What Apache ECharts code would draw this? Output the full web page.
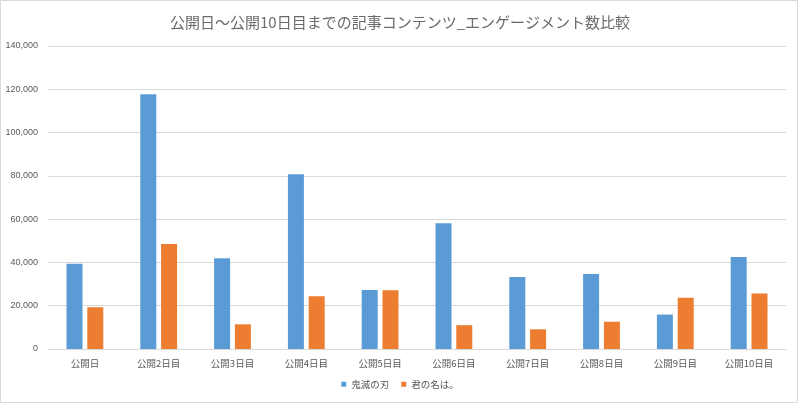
<!DOCTYPE html>
<html>
<head>
<meta charset="utf-8">
<script src="https://cdn.jsdelivr.net/npm/echarts@6/dist/echarts.min.js"></script>
<style>
html,body{margin:0;padding:0;background:#fff;}
#chart{width:800px;height:404px;}
</style>
</head>
<body>
<div id="chart"></div>
<script>
const categories = ['公開日','公開2日目','公開3日目','公開4日目','公開5日目','公開6日目','公開7日目','公開8日目','公開9日目','公開10日目'];
const kimetsu = [39400, 117700, 41900, 80700, 27300, 58100, 33300, 34700, 15900, 42500];
const kiminonawa = [19300, 48500, 11400, 24400, 27100, 11000, 9100, 12600, 23700, 25700];
const yTicks = [0, 20000, 40000, 60000, 80000, 100000, 120000, 140000];
const seriesNames = ['鬼滅の刃', '君の名は。'];

const font = '"Noto Sans CJK JP", "Liberation Sans", sans-serif';
const chart = echarts.init(document.getElementById('chart'));
chart.setOption({
  animation: false,
  backgroundColor: '#fff',
  title: {
    text: '公開日〜公開10日目までの記事コンテンツ_エンゲージメント数比較',
    left: 'center',
    top: 10,
    textStyle: {fontFamily: font, fontSize: 15, fontWeight: 'normal', color: '#6a6a6a'}
  },
  graphic: [{
    type: 'rect',
    shape: {x: 0.5, y: 0.5, width: 797, height: 402},
    style: {fill: 'none', stroke: '#d9d9d9', lineWidth: 1},
    silent: true
  }],
  legend: {
    data: seriesNames,
    bottom: 10,
    left: 'center',
    icon: 'rect',
    itemWidth: 5,
    itemHeight: 5,
    itemGap: 12,
    textStyle: {fontFamily: font, fontSize: 9.5, color: '#595959'}
  },
  grid: {left: 48, right: 14, top: 46, bottom: 55, containLabel: false},
  xAxis: {
    type: 'category',
    data: categories,
    axisLine: {lineStyle: {color: '#d9d9d9'}},
    axisTick: {show: false},
    axisLabel: {fontFamily: font, fontSize: 9.5, color: '#595959', margin: 10}
  },
  yAxis: {
    type: 'value',
    min: yTicks[0],
    max: yTicks[yTicks.length - 1],
    interval: yTicks[1] - yTicks[0],
    axisLine: {show: false},
    axisTick: {show: false},
    splitLine: {lineStyle: {color: '#d9d9d9'}},
    axisLabel: {
      fontFamily: '"Liberation Sans", sans-serif', fontSize: 9, color: '#595959', margin: 10,
      formatter: v => v.toLocaleString('en-US')
    }
  },
  series: [
    {name: seriesNames[0], type: 'bar', data: kimetsu, barWidth: 16, barGap: '30%', itemStyle: {color: '#5B9BD5'}},
    {name: seriesNames[1], type: 'bar', data: kiminonawa, barWidth: 16, barGap: '30%', itemStyle: {color: '#ED7D31'}}
  ]
});
</script>
</body>
</html>
